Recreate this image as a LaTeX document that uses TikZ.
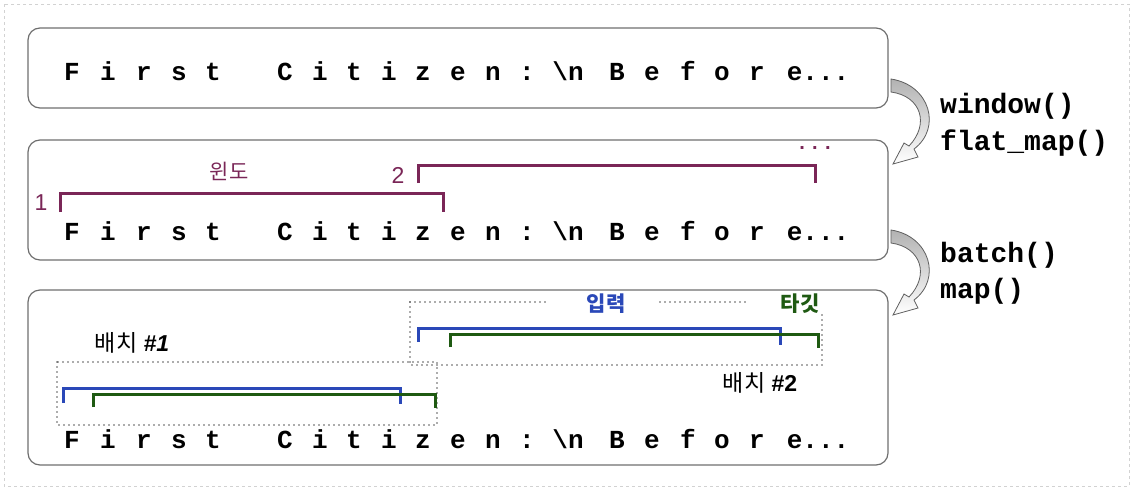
\documentclass[tikz,border=0pt]{standalone}
\usepackage{fontspec}
\setmainfont{Liberation Sans}
\setmonofont{Liberation Mono}
\newfontfamily\kofont{Noto Sans CJK KR}
\usepackage{tikz}
\usetikzlibrary{positioning}
\definecolor{winpurple}{HTML}{7A2657}
\definecolor{inblue}{HTML}{2A48B8}
\definecolor{tggreen}{HTML}{1F5A12}
\definecolor{boxgray}{HTML}{6E6E6E}
\tikzset{seqbox/.style={draw=boxgray,line width=1.2pt,rounded corners=12pt},
	seqchar/.style={font=\ttfamily\bfseries\fontsize{26}{26}\selectfont,inner sep=0pt,anchor=base},
	oplabel/.style={font=\ttfamily\bfseries\fontsize{28}{28}\selectfont,inner sep=0pt,anchor=base west},
	brk/.style={line width=3pt,line join=miter},
	batchbox/.style={draw=gray!70!black,line width=1.6pt,line cap=round,dash pattern=on 0pt off 5pt},
	flowarrow/.style={draw=gray!75!black,line width=0.8pt,top color=gray!60,bottom color=white}}
\def\bsn{\textbackslash n}
\def\edots{e...}

\begin{document}
\begin{tikzpicture}[x=1pt,y=-1pt]
	\useasboundingbox (0,0) rectangle (1134,490);
	\draw[gray!35,dashed] (4,4) rectangle (1129,486);
	\node[seqbox,minimum width=860pt,minimum height=80pt] (row1) at (458,68) {};
	\node[seqbox,minimum width=860pt,minimum height=120pt] (row2) at (458,200) {};
	\node[seqbox,minimum width=860pt,minimum height=175pt] (row3) at (458,377.5) {};
	%
	\foreach \r/\y in {1/80,2/240,3/448}
		\foreach \c/\x [count=\i] in {F/72,i/108,r/144,s/179,t/213,C/285,i/320,t/354,i/389,z/423,e/458,n/493,:/527,\bsn/568,B/617,e/652,f/688,o/722,r/757,\edots/818}
			\node[seqchar] (t\r-\i) at (\x,\y) {\c};
	%
	\foreach \dy in {0,151}
		\draw[flowarrow,shift={(0,\dy)}] (891,79) .. controls (930,85) and (942,128) .. (914,149) -- (918,157) -- (893,164) -- (904,143) -- (909,146) .. controls (930,124) and (921,96) .. (891,92) -- cycle;
	\node[oplabel] (op1) at (940,113) {window()};
	\node[oplabel] (op2) at (940,150) {flat\_map()};
	\node[oplabel] (op3) at (940,262) {batch()};
	\node[oplabel] (op4) at (940,298) {map()};
	%
	\draw[brk,winpurple] (60,212) -- (60,193) -- (443,193) -- (443,212);
	\draw[brk,winpurple] (418,183) -- (418,165) -- (815,165) -- (815,183);
	\node[winpurple,font=\fontsize{23}{23}\selectfont] (win1) at (41,203) {1};
	\node[winpurple,font=\fontsize{23}{23}\selectfont] (win2) at (398,175) {2};
	\node[winpurple,font=\kofont\fontsize{21}{21}\selectfont] (win) at (229,171) {윈도};
	\node[winpurple,font=\bfseries\fontsize{20}{20}\selectfont] (windots) at (815,148) {. . .};
	%
	\draw[batchbox] (410,302) -- (410,365) -- (822,365) -- (822,312);
	\draw[batchbox] (410,302) -- (545,302);
	\draw[batchbox] (660,302) -- (745,302);
	\draw[batchbox] (57,362) rectangle (437,425);
	\draw[brk,inblue] (418,342) -- (418,328) -- (780,328) -- (780,345);
	\draw[brk,tggreen] (450,347) -- (450,334) -- (818,334) -- (818,348);
	\draw[brk,inblue] (63,403) -- (63,388) -- (400,388) -- (400,404);
	\draw[brk,tggreen] (93,407) -- (93,394) -- (435,394) -- (435,408);
	\node[inblue,font=\kofont\bfseries\fontsize{21}{21}\selectfont] (inlab) at (606,304) {입력};
	\node[tggreen,font=\kofont\bfseries\fontsize{21}{21}\selectfont] (tglab) at (800,304) {타깃};
	\node[font=\fontsize{23}{23}\selectfont] (b1) at (132,343) {{\kofont 배치} \textbf{\textit{\#1}}};
	\node[font=\fontsize{23}{23}\selectfont] (b2) at (760,383) {{\kofont 배치} \textbf{\#2}};
\end{tikzpicture}
\end{document}
